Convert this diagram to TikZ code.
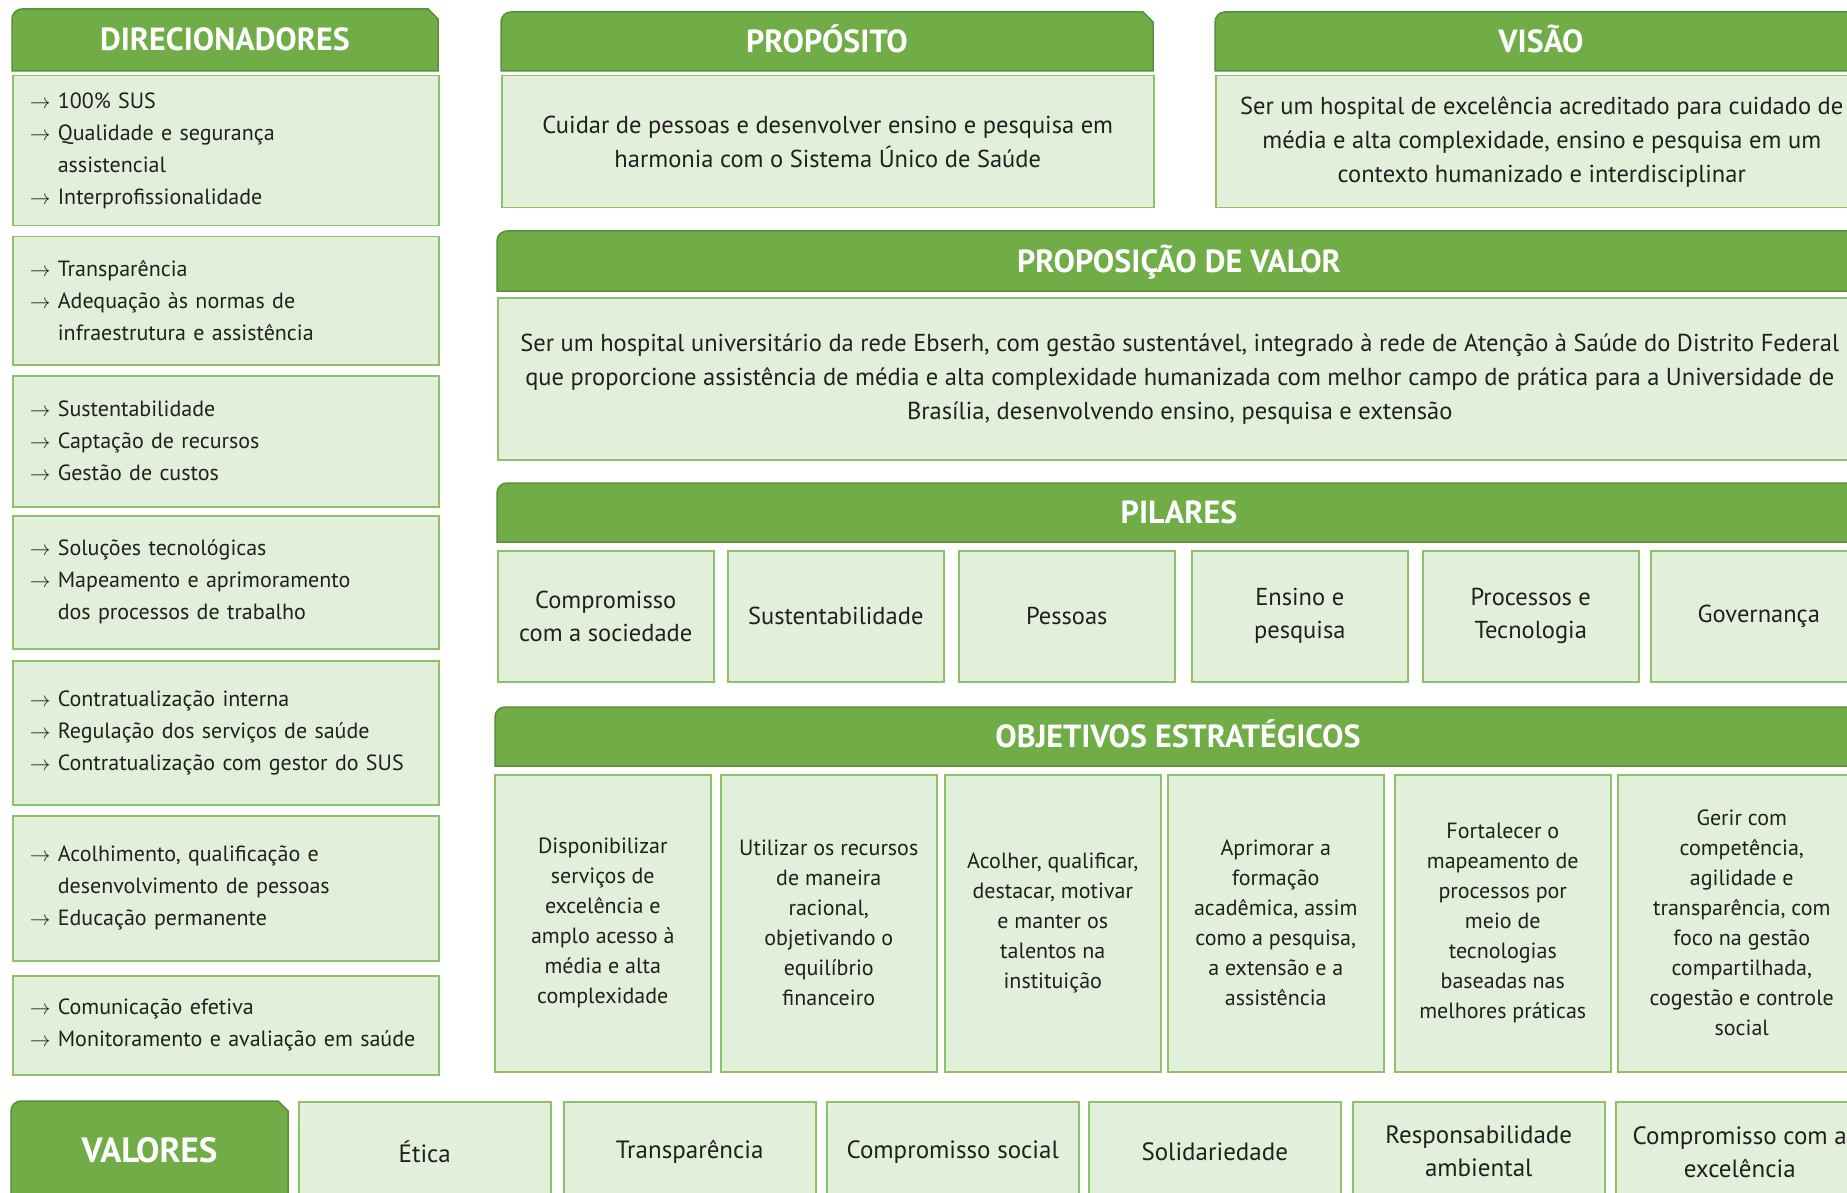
\documentclass[tikz,border=0pt]{standalone}
\usepackage{fontspec}
\setmainfont{PT Sans}
\usepackage{tikz}

\definecolor{verde}{HTML}{70AD47}
\definecolor{verdeesc}{HTML}{5B8E3A}
\definecolor{fundo}{HTML}{E2EFDA}
\definecolor{borda}{HTML}{8DC26B}
\definecolor{texto}{HTML}{231F20}

\tikzset{
  head/.style={fill=verde, draw=verdeesc, line width=1.5pt},
  headtext/.style={text=white, font=\fontsize{32}{38}\selectfont\bfseries,
    text height=22pt, text depth=0pt, inner sep=0pt},
  box/.style={fill=fundo, draw=borda, line width=1.5pt, anchor=north west,
    inner sep=0pt, align=center, text=texto, font=\fontsize{24.5}{34}\selectfont},
  lista/.style={box, text width=392pt, align=left, inner xsep=17pt,
    font=\fontsize{22}{32}\selectfont},
  pilar/.style={box, minimum width=216pt, minimum height=131pt,
    font=\fontsize{24.5}{33}\selectfont},
  objetivo/.style={box, minimum width=216pt, minimum height=297pt,
    font=\fontsize{22}{30}\selectfont},
  valor/.style={box, minimum width=252pt, minimum height=100pt,
    font=\fontsize{25}{33}\selectfont},
}

% header: name, x1, y1, x2, y2, text
\newcommand{\cabec}[6]{%
  \draw[head] (#2,-#5) -- (#2,-#3-10) arc[start angle=180, end angle=90, radius=10pt]
    -- (#4-10,-#3) -- (#4,-#3-10) -- (#4,-#5) -- cycle;
  \node[headtext] (#1) at ({(#2+#4)/2},{-(#3+#5)/2}) {#6};}
\newcommand{\seta}{$\rightarrow$\ }
\newcommand{\recuo}{\hphantom{$\rightarrow$\ }}

\begin{document}
\begin{tikzpicture}[x=1pt, y=1pt]
    \useasboundingbox (0,0) rectangle (1847,-1193);

    % direcionadores
    \cabec{dir}{12}{9}{438}{71}{DIRECIONADORES}
    \node[lista, minimum height=150pt] (d1) at (12,-75)
      {\seta 100\% SUS\\\seta Qualidade e segurança\\\recuo assistencial\\\seta Interprofissionalidade};
    \node[lista, minimum height=128pt] (d2) at (12,-236)
      {\seta Transparência\\\seta Adequação às normas de\\\recuo infraestrutura e assistência};
    \node[lista, minimum height=131pt] (d3) at (12,-375)
      {\seta Sustentabilidade\\\seta Captação de recursos\\\seta Gestão de custos};
    \node[lista, minimum height=133pt] (d4) at (12,-515)
      {\seta Soluções tecnológicas\\\seta Mapeamento e aprimoramento\\\recuo dos processos de trabalho};
    \node[lista, minimum height=144pt] (d5) at (12,-660)
      {\seta Contratualização interna\\\seta Regulação dos serviços de saúde\\\seta Contratualização com gestor do SUS};
    \node[lista, minimum height=145pt] (d6) at (12,-815)
      {\seta Acolhimento, qualificação e\\\recuo desenvolvimento de pessoas\\\seta Educação permanente};
    \node[lista, minimum height=99pt] (d7) at (12,-975)
      {\seta Comunicação efetiva\\\seta Monitoramento e avaliação em saúde};

    % proposito e visao
    \cabec{prop}{501}{12}{1153}{71}{PROPÓSITO}
    \node[box, minimum width=652pt, minimum height=132pt] (propt) at (501,-75)
      {Cuidar de pessoas e desenvolver ensino e pesquisa em\\harmonia com o Sistema Único de Saúde};
    \cabec{vis}{1215}{12}{1867}{71}{VISÃO}
    \node[box, minimum width=652pt, minimum height=132pt] (vist) at (1215,-75)
      {Ser um hospital de excelência acreditado para cuidado de\\média e alta complexidade, ensino e pesquisa em um\\contexto humanizado e interdisciplinar};

    % proposicao de valor
    \cabec{pv}{497}{231}{1861}{291}{PROPOSIÇÃO DE VALOR}
    \node[box, minimum width=1364pt, minimum height=162pt] (pvt) at (497,-297)
      {Ser um hospital universitário da rede Ebserh, com gestão sustentável, integrado à rede de Atenção à Saúde do Distrito Federal\\
       que proporcione assistência de média e alta complexidade humanizada com melhor campo de prática para a Universidade de\\
       Brasília, desenvolvendo ensino, pesquisa e extensão};

    % pilares
    \cabec{pil}{497}{483}{1861}{542}{PILARES}
    \node[pilar] (p1) at (497,-550) {Compromisso\\com a sociedade};
    \node[pilar] (p2) at (727,-550) {Sustentabilidade};
    \node[pilar] (p3) at (958,-550) {Pessoas};
    \node[pilar] (p4) at (1191,-550) {Ensino e\\pesquisa};
    \node[pilar] (p5) at (1422,-550) {Processos e\\Tecnologia};
    \node[pilar] (p6) at (1650,-550) {Governança};

    % objetivos estrategicos
    \cabec{obj}{495}{707}{1861}{766}{OBJETIVOS ESTRATÉGICOS}
    \node[objetivo] (o1) at (494,-774)
      {Disponibilizar\\serviços de\\excelência e\\amplo acesso à\\média e alta\\complexidade};
    \node[objetivo] (o2) at (720,-774)
      {Utilizar os recursos\\de maneira\\racional,\\objetivando o\\equilíbrio\\financeiro};
    \node[objetivo] (o3) at (944,-774)
      {Acolher, qualificar,\\destacar, motivar\\e manter os\\talentos na\\instituição};
    \node[objetivo] (o4) at (1167,-774)
      {Aprimorar a\\formação\\acadêmica, assim\\como a pesquisa,\\a extensão e a\\assistência};
    \node[objetivo] (o5) at (1394,-774)
      {Fortalecer o\\mapeamento de\\processos por\\meio de\\tecnologias\\baseadas nas\\melhores práticas};
    \node[objetivo, minimum width=248pt] (o6) at (1617,-774)
      {Gerir com\\competência,\\agilidade e\\transparência, com\\foco na gestão\\compartilhada,\\cogestão e controle\\social};

    % valores
    \cabec{val}{11}{1101}{288}{1201}{\fontsize{35}{40}\selectfont VALORES}
    \node[valor] (v1) at (298,-1101) {Ética};
    \node[valor] (v2) at (563,-1101) {Transparência};
    \node[valor] (v3) at (826,-1101) {Compromisso social};
    \node[valor] (v4) at (1088,-1101) {Solidariedade};
    \node[valor] (v5) at (1352,-1101) {Responsabilidade\\ambiental};
    \node[valor, minimum width=248pt] (v6) at (1615,-1101) {Compromisso com a\\excelência};
\end{tikzpicture}
\end{document}
